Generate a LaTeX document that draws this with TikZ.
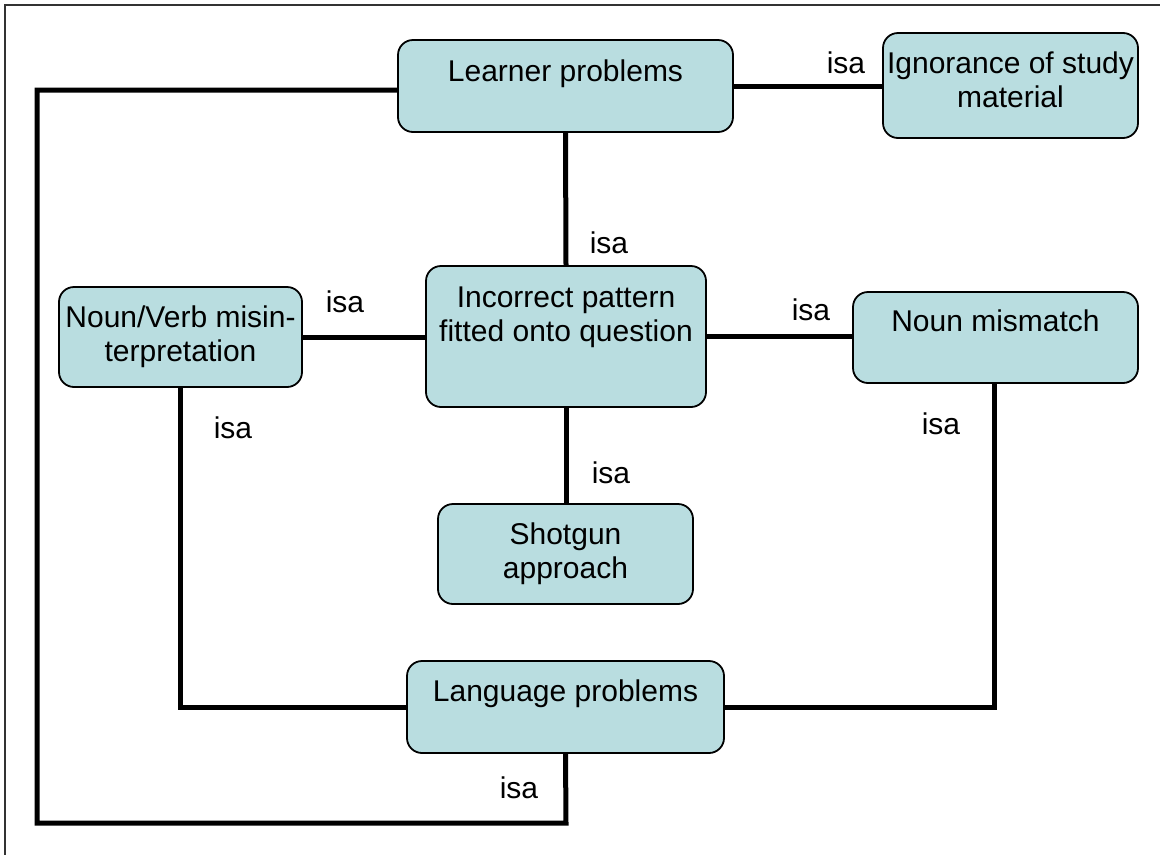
\documentclass[tikz,border=0pt]{standalone}
\usepackage{fontspec}
\setmainfont{Liberation Sans}
\definecolor{boxfill}{RGB}{185,221,224}
\begin{document}
\begin{tikzpicture}[x=1pt,y=-1pt,
  box/.style={draw=black, line width=1.8pt, fill=boxfill, rounded corners=15pt, inner sep=0pt},
  boxtxt/.style={inner sep=0pt, anchor=north, align=center, font=\fontsize{30}{34}\selectfont},
  isa/.style={inner sep=0pt, anchor=base, font=\fontsize{30}{34}\selectfont},
  conn/.style={line width=5pt, line join=miter}]
\useasboundingbox (0,0) rectangle (1160,855);
% frame (only top and left edges visible)
\draw[line width=2pt, black!80] (1160,5) -- (5,5) -- (5,855);

% boxes
\node[box, minimum width=335pt, minimum height=92pt]  (learner)   at (565.5,86)  {};
\node[box, minimum width=255pt, minimum height=105pt] (ignor)     at (1010.5,85.5) {};
\node[box, minimum width=280pt, minimum height=141pt] (incorrect) at (566,336.5) {};
\node[box, minimum width=243pt, minimum height=100pt] (nounverb)  at (180.5,337) {};
\node[box, minimum width=285pt, minimum height=91pt]  (nounmis)   at (995.5,337.5) {};
\node[box, minimum width=255pt, minimum height=100pt] (shotgun)   at (565.5,554) {};
\node[box, minimum width=317pt, minimum height=92pt]  (lang)      at (565.5,707) {};

% box texts
\node[boxtxt] (learnerT)   at ([yshift=-20pt]learner.north)   {Learner problems};
\node[boxtxt] (ignorT)     at ([yshift=-19pt]ignor.north)     {Ignorance of study\\material};
\node[boxtxt] (incorrectT) at ([yshift=-22pt]incorrect.north) {Incorrect pattern\\fitted onto question};
\node[boxtxt] (nounverbT)  at ([yshift=-19pt]nounverb.north)  {Noun/Verb misin-\\terpretation};
\node[boxtxt] (nounmisT)   at ([yshift=-18pt]nounmis.north)   {Noun mismatch};
\node[boxtxt] (shotgunT)   at ([yshift=-19pt]shotgun.north)   {Shotgun\\approach};
\node[boxtxt] (langT)      at ([yshift=-19pt]lang.north)      {Language problems};

% connectors
\coordinate (lpL) at (37,90);
\coordinate (bl)  at (37,823);
\coordinate (br)  at (566,823);
\draw[conn] ([yshift=-4pt]learner.west) -- (lpL) -- (bl) -- (br) -- (lang.south);
\draw[conn] (learner.east) -- (learner.east -| ignor.west);
\draw[conn] (learner.south) -- (incorrect.north);
\draw[conn] (nounverb.east) -- (nounverb.east -| incorrect.west);
\draw[conn] (incorrect.east) -- (incorrect.east -| nounmis.west);
\draw[conn] (incorrect.south) -- (incorrect.south |- shotgun.north);
\coordinate (nvC) at (180.5,707);
\draw[conn] (nounverb.south) -- (nvC) -- (lang.west);
\coordinate (nmS) at (994,383);
\coordinate (nmC) at (994,707);
\draw[conn] (nmS) -- (nmC) -- (lang.east);

% isa labels
\node[isa] (isa1) at (846,73)  {isa};
\node[isa] (isa2) at (609,253) {isa};
\node[isa] (isa3) at (345,312) {isa};
\node[isa] (isa4) at (811,320) {isa};
\node[isa] (isa5) at (233,438) {isa};
\node[isa] (isa6) at (941,434) {isa};
\node[isa] (isa7) at (611,483) {isa};
\node[isa] (isa8) at (519,798) {isa};
\end{tikzpicture}
\end{document}
